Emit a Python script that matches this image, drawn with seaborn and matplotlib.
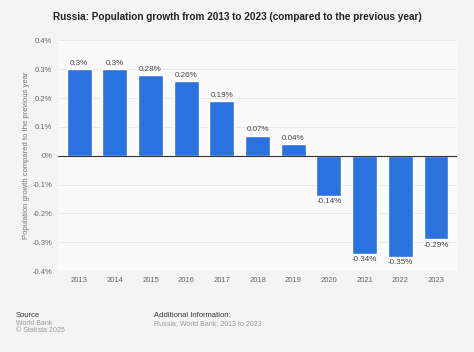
import matplotlib
matplotlib.use("Agg")
import matplotlib.pyplot as plt
import seaborn as sns
import pandas as pd

years = ["2013", "2014", "2015", "2016", "2017", "2018", "2019", "2020", "2021", "2022", "2023"]
growth = [0.3, 0.3, 0.28, 0.26, 0.19, 0.07, 0.04, -0.14, -0.34, -0.35, -0.29]
labels = ["0.3%", "0.3%", "0.28%", "0.26%", "0.19%", "0.07%", "0.04%", "-0.14%", "-0.34%", "-0.35%", "-0.29%"]
yticks = [0.4, 0.3, 0.2, 0.1, 0, -0.1, -0.2, -0.3, -0.4]
ytick_labels = ["0.4%", "0.3%", "0.2%", "0.1%", "0%", "-0.1%", "-0.2%", "-0.3%", "-0.4%"]

df = pd.DataFrame({"year": years, "growth": growth})

sns.set_style("white")
plt.rcParams["font.family"] = ["Liberation Sans", "DejaVu Sans"]

fig = plt.figure(figsize=(4.74, 3.52), dpi=100, facecolor="#f4f4f4")
ax = fig.add_axes([0.122, 0.23, 0.843, 0.655])
ax.set_facecolor("#fafafa")

sns.barplot(data=df, x="year", y="growth", ax=ax, color="#2a72dd",
            saturation=1, width=0.7, zorder=3)

for i, (v, t) in enumerate(zip(growth, labels)):
    off = 0.008 if v >= 0 else -0.008
    ax.text(i, v + off, t, ha="center", va="bottom" if v >= 0 else "top",
            fontsize=5.8, color="#444444")

ax.set_ylim(-0.4, 0.4)
ax.set_xlim(-0.6, 10.6)
ax.set_yticks(yticks)
ax.set_yticklabels(ytick_labels)
ax.grid(axis="y", color="#e6e6e6", linewidth=0.6, zorder=0)
ax.axhline(0, color="#333333", linewidth=0.8, zorder=4)
for s in ax.spines.values():
    s.set_visible(False)
ax.tick_params(axis="both", length=0, labelsize=5.5, colors="#666666", pad=4)
ax.set_xlabel("")
ax.set_ylabel("Population growth compared to the previous year", fontsize=5.5,
              color="#777777", labelpad=2)

fig.text(0.5, 0.953, "Russia: Population growth from 2013 to 2023 (compared to the previous year)",
         ha="center", va="center", fontsize=7.2, fontweight="bold", color="#222222")

fig.text(0.033, 0.105, "Source", fontsize=5.5, color="#333333", va="center")
fig.text(0.033, 0.082, "World Bank", fontsize=5, color="#999999", va="center")
fig.text(0.033, 0.061, "© Statista 2025", fontsize=5, color="#999999", va="center")
fig.text(0.324, 0.105, "Additional Information:", fontsize=5.5, color="#333333", va="center")
fig.text(0.324, 0.082, "Russia; World Bank; 2013 to 2023", fontsize=5, color="#999999", va="center")

fig.savefig("out.png", dpi=100, facecolor=fig.get_facecolor())
